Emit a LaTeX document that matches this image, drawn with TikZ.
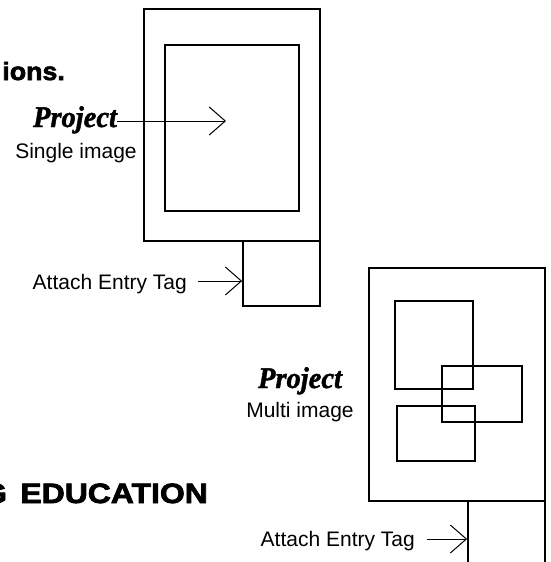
\documentclass[tikz,border=0pt]{standalone}
\usepackage{fontspec}
\setmainfont{Liberation Sans}
\newfontfamily\heavyfont[FakeBold=2.5]{Liberation Sans Bold}
\newfontfamily\projfont[FakeBold=1.5]{Liberation Serif Bold Italic}
\usetikzlibrary{arrows.meta}
\newcommand{\projtext}{\scalebox{0.95}[1]{\projfont\fontsize{30}{30}\selectfont Project}}
\begin{document}
\begin{tikzpicture}[x=1pt,y=-1pt,
  box/.style={draw,rectangle,inner sep=0pt,line width=1.8pt},
  lbl/.style={inner sep=0pt,font=\fontsize{21}{21}\selectfont},
  head/.style={inner sep=0pt},
  arr/.style={line width=1pt,-{Straight Barb[length=16pt,width=28pt,line width=1pt]}}
]
\useasboundingbox (0,0) rectangle (551,562);

% headings cut at the left edge
\node[head,anchor=base east] (ions) at (65,80)
  {\scalebox{1.07}[1]{\heavyfont\fontsize{25}{25}\selectfont ions.}};
\node[head,anchor=base east] (educ) at (208,503)
  {\scalebox{1.14}[1]{\heavyfont\fontsize{28}{28}\selectfont G\hspace{4pt} EDUCATION}};

% single image project
\node[box,minimum width=176pt,minimum height=232pt] (outer1) at (232,125) {};
\node[box,minimum width=134pt,minimum height=166pt] (inner1) at (232,128) {};
\node[box,minimum width=77pt,minimum height=65pt] (tag1) at (281.5,273.5) {};

\node[head,anchor=base] (proj1) at (75,127) {\projtext};
\node[lbl,anchor=base] (single) at (76,158) {Single image};
\coordinate (p1end) at (226,121);
\draw[arr] (proj1.east |- p1end) -- (p1end);

\node[lbl,anchor=base east] (attach1) at (187,289) {Attach Entry Tag};
\coordinate (a1s) at (198,281);
\draw[arr] (a1s) -- (a1s -| tag1.west);

% multi image project
\node[box,minimum width=176pt,minimum height=233pt] (outer2) at (457,384.5) {};
\node[box,minimum width=77pt,minimum height=65pt] (tag2) at (506.5,533.5) {};
\node[box,minimum width=78pt,minimum height=88pt] (imgA) at (434,345) {};
\node[box,minimum width=80pt,minimum height=56pt] (imgB) at (482,394) {};
\node[box,minimum width=78pt,minimum height=55pt] (imgC) at (436,433.5) {};

\node[head,anchor=base] (proj2) at (300,388) {\projtext};
\node[lbl,anchor=base] (multi) at (300,417) {Multi image};

\node[lbl,anchor=base east] (attach2) at (415,546) {Attach Entry Tag};
\coordinate (a2s) at (427,539);
\draw[arr] (a2s) -- (a2s -| tag2.west);
\end{tikzpicture}
\end{document}
